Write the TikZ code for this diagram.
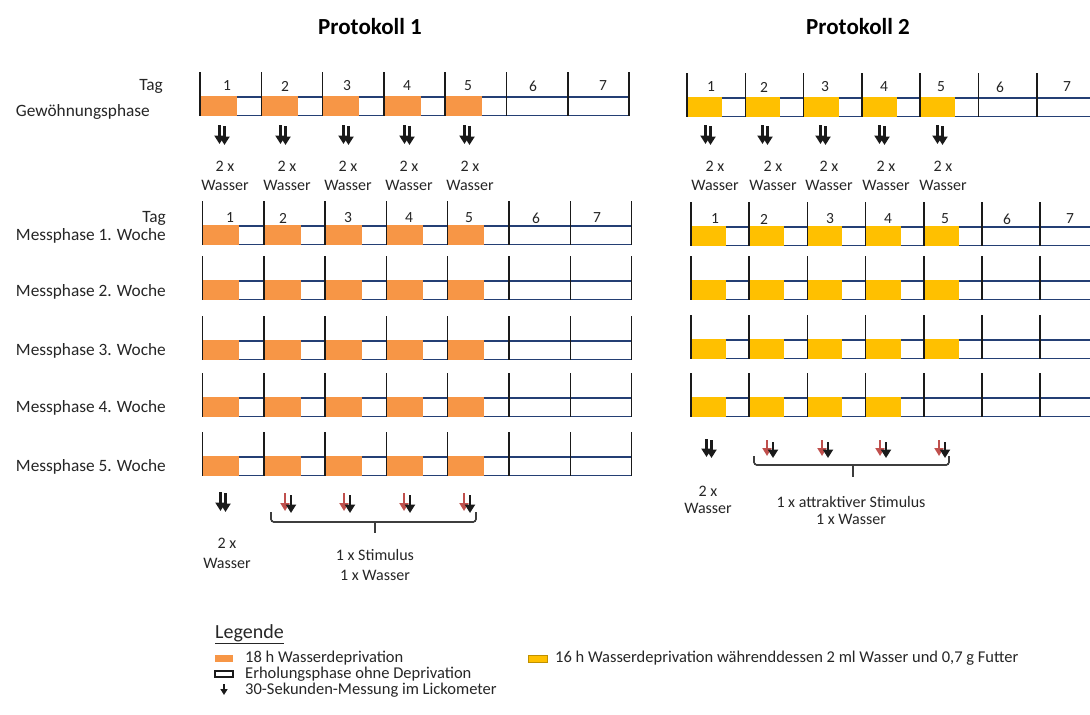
\documentclass[tikz,border=0pt]{standalone}
\usepackage{fontspec}
\setmainfont{Carlito}
\usetikzlibrary{arrows.meta}

\definecolor{depri}{HTML}{F79646}
\definecolor{feed}{HTML}{FFC000}
\definecolor{feededge}{HTML}{BF9000}
\definecolor{rail}{HTML}{243F74}
\definecolor{stim}{HTML}{C0504D}
\definecolor{ink}{HTML}{1A1A1A}
\definecolor{txt}{HTML}{262626}

\tikzset{
  rail/.style={draw=rail, line width=1.4pt},
  daytick/.style={draw=ink, line width=1.5pt},
  lbl/.style={font=\fontsize{17.3}{20}\selectfont, text=txt, anchor=east, inner sep=0pt},
  num/.style={font=\fontsize{15.5}{18}\selectfont, text=txt, inner sep=0pt},
  note/.style={font=\fontsize{16}{18.5}\selectfont, text=txt, inner sep=0pt, align=center},
  heading/.style={font=\fontsize{23}{27}\selectfont\bfseries, text=black, inner sep=0pt},
  legtext/.style={font=\fontsize{16.5}{19}\selectfont, text=txt, anchor=west, inner sep=0pt},
  probe/.style={draw=ink, line width=2.1pt, -{Triangle[length=8.5pt,width=10pt]}},
  probered/.style={draw=stim, line width=1.8pt, -{Triangle[length=8pt,width=9pt]}},
  brace/.style={draw=ink!85, line width=1.2pt, rounded corners=3pt},
}

% one week: rails, deprivation blocks and day ticks
% #1 first tick x, #2 day width, #3 upper rail y, #4 colour, #5 days with deprivation
\newcommand\weekbar[5]{%
  \draw[rail] (#1,#3) -- ({min(#1+7*#2,1095)},#3);
  \draw[rail] (#1,#3+18.5) -- ({min(#1+7*#2,1095)},#3+18.5);
  \foreach \k in {1,...,#5}
    \fill[#4] ({#1+(\k-1)*#2},#3-0.7) rectangle ++({0.6*#2},19.9);
  \foreach \k in {0,...,7}{%
    \pgfmathsetmacro\xx{#1+\k*#2}%
    \ifdim\xx pt<1092pt \draw[daytick] (\xx,#3-25) -- (\xx,#3+18.5); \fi
  }%
}
% two water measurements
\newcommand\twoprobe[3]{%
  \draw[probe] (#1-2.5,#2) -- (#1-2.5,#2+#3);
  \draw[probe] (#1+2.5,#2+1) -- (#1+2.5,#2+#3+1);
}
% stimulus measurement plus water measurement
\newcommand\mixprobe[3]{%
  \draw[probered] (#1-3,#2) -- (#1-3,#2+#3-1);
  \draw[probe] (#1+3,#2+2) -- (#1+3,#2+#3+1);
}

\begin{document}
\begin{tikzpicture}[x=1pt,y=-1pt]
\useasboundingbox (0,0) rectangle (1090,715);
\fill[white] (0,0) rectangle (1090,715);

% ---------- headings ----------
\node[heading] (h1) at (370,27) {Protokoll 1};
\node[heading] (h2) at (858,27) {Protokoll 2};

% ---------- row labels ----------
\node[lbl] (tag0) at (163,86) {Tag};
\node[lbl] (gew) at (150,112) {Gewöhnungsphase};
\node[lbl] (tag1) at (166,218) {Tag};
\node[lbl] (w1) at (166,236) {Messphase 1. Woche};
\node[lbl] (w2) at (166,292) {Messphase 2. Woche};
\node[lbl] (w3) at (166,351) {Messphase 3. Woche};
\node[lbl] (w4) at (166,408) {Messphase 4. Woche};
\node[lbl] (w5) at (166,467) {Messphase 5. Woche};

% ---------- Protokoll 1 ----------
\weekbar{200}{61.3}{97}{depri}{5}
\weekbar{202.5}{61.3}{226}{depri}{5}
\weekbar{202.5}{61.3}{281}{depri}{5}
\weekbar{202.5}{61.3}{341}{depri}{5}
\weekbar{202.5}{61.3}{398}{depri}{5}
\weekbar{202.5}{61.3}{457}{depri}{5}

\foreach \k/\x in {1/227,2/285,3/347,4/407,5/468,6/533,7/603}
  \node[num] (pa\k) at (\x,86) {\k};
\foreach \k/\x in {1/230,2/283,3/348,4/409,5/469,6/536,7/597}
  \node[num] (pb\k) at (\x,218) {\k};

\foreach \k/\x/\t in {1/222/225,2/283/287,3/346/348,4/407/409,5/467/470}{
  \twoprobe{\x}{125}{19}
  \node[note] (pw\k) at (\t,176) {2 x\\Wasser};
}

\twoprobe{223}{492}{19}
\foreach \x in {288,347,407,467}
  \mixprobe{\x}{493}{19}
\draw[brace] (271,512) -- (271,522) -- (476,522) -- (476,512);
\draw[brace] (375,522) -- (375,533);
\node[note, font=\fontsize{16}{20}\selectfont] (pwend) at (227,553) {2 x\\Wasser};
\node[note, font=\fontsize{16}{19.5}\selectfont] (pstim) at (375,565) {1 x Stimulus\\1 x Wasser};

% ---------- Protokoll 2 ----------
\weekbar{687}{58.3}{98}{feed}{5}
\weekbar{691}{58.2}{227}{feed}{5}
\weekbar{691}{58.2}{281}{feed}{5}
\weekbar{691}{58.2}{340}{feed}{5}
\weekbar{691}{58.2}{398}{feed}{4}

\foreach \k/\x in {1/711,2/764,3/825,4/884,5/941,6/1000,7/1067}
  \node[num] (qa\k) at (\x,87) {\k};
\foreach \k/\x in {1/715,2/764,3/830,4/888,5/945,6/1007,7/1070}
  \node[num] (qb\k) at (\x,219) {\k};

\foreach \k/\x/\t in {1/708/715,2/765/773,3/823/829,4/882/886,5/940/943}{
  \twoprobe{\x}{125}{19}
  \node[note] (qw\k) at (\t,176) {2 x\\Wasser};
}

\twoprobe{709}{439}{18}
\foreach \x in {770,825,883,942}
  \mixprobe{\x}{440}{17}
\draw[brace] (754,456) -- (754,465) -- (949,465) -- (949,456);
\draw[brace] (853,465) -- (853,477);
\node[note, font=\fontsize{16}{17}\selectfont] (qwend) at (708,500) {2 x\\Wasser};
\node[note, font=\fontsize{16}{17}\selectfont] (qstim) at (851,510) {1 x attraktiver Stimulus\\1 x Wasser};

% ---------- legend ----------
\node[legtext, font=\fontsize{20}{24}\selectfont] (leg) at (215,634) {\underline{Legende}};
\fill[depri] (215,655) rectangle (233,662);
\node[legtext] (l1) at (245,658) {18 h Wasserdeprivation};
\draw[ink, line width=1.2pt] (215,671) rectangle (233,677);
\node[legtext] (l2) at (245,674) {Erholungsphase ohne Deprivation};
\draw[draw=ink, line width=1.6pt, -{Triangle[length=6pt,width=7pt]}] (224,684) -- (224,695);
\node[legtext] (l3) at (245,690) {30-Sekunden-Messung im Lickometer};
\filldraw[fill=feed, draw=feededge, line width=1pt] (528,655) rectangle (547,662);
\node[legtext] (l4) at (555,658) {16 h Wasserdeprivation währenddessen 2 ml Wasser und 0,7 g Futter};
\end{tikzpicture}
\end{document}
